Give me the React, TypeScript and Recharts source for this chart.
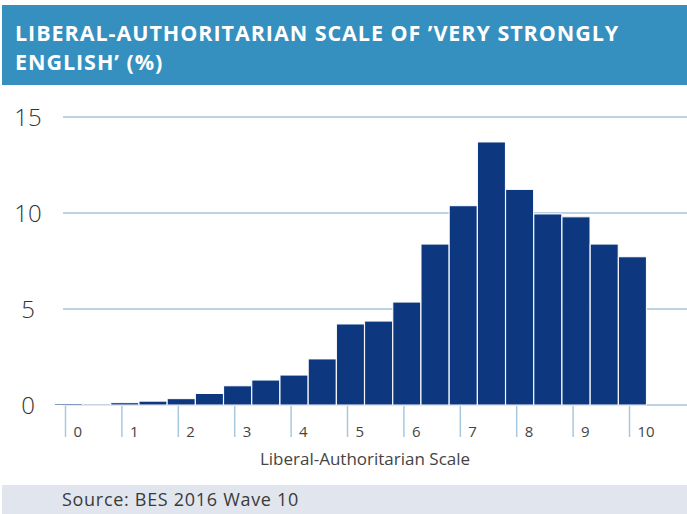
import { BarChart, Bar, XAxis, YAxis, CartesianGrid, Label } from "recharts";

// scale bins (half-point steps) and share of 'very strongly English' (%)
const bins = [0, 0.5, 1, 1.5, 2, 2.5, 3, 3.5, 4, 4.5, 5, 5.5, 6, 6.5, 7, 7.5, 8, 8.5, 9, 9.5, 10];
const shares = [
      0.08, 0.05, 0.12, 0.2, 0.33, 0.6, 1.0, 1.3, 1.56, 2.4, 4.22, 4.37, 5.36, 8.38, 10.38, 13.7,
      11.23, 9.95, 9.8, 8.38, 7.72,
];
const xTicks = [0, 1, 2, 3, 4, 5, 6, 7, 8, 9, 10];
const yTicks = [0, 5, 10, 15];

const data = bins.map((bin, i) => ({ bin, share: shares[i] }));

const FONT = "'Open Sans', sans-serif";

const XTick = (props: any) => {
      const { x, y, payload } = props;
      return (
            <g>
                  <line x1={x - 3} x2={x - 3} y1={y + 1} y2={y + 32} stroke="#a8c8e0" strokeWidth={1.5} />
                  <text x={x + 5} y={y + 32} fontSize={15} fill="#444" fontFamily={FONT}>
                        {payload.value}
                  </text>
            </g>
      );
};

const YTick = (props: any) => {
      const { y, payload } = props;
      return (
            <text x={28} y={y + 9} textAnchor="middle" fontSize={24} fill="#333" fontFamily={FONT} fontWeight={300}>
                  {payload.value}
            </text>
      );
};

const titleLine = { height: 29, lineHeight: "29px", whiteSpace: "nowrap" as const };

export default function App() {
      return (
            <div style={{ position: "relative", width: 687, height: 514, background: "#fff", fontFamily: FONT }}>
                  <style>{"body{margin:0}"}</style>

                  {/* title band */}
                  <div
                        style={{
                              position: "absolute",
                              left: 2,
                              top: 5,
                              width: 685,
                              height: 80,
                              background: "#3590bf",
                              color: "#fff",
                              fontWeight: 700,
                              fontSize: 21.5,
                              letterSpacing: 0.95,
                              padding: "13px 0 0 13px",
                              boxSizing: "border-box",
                        }}
                  >
                        <div style={titleLine}>LIBERAL-AUTHORITARIAN SCALE OF ’VERY STRONGLY</div>
                        <div style={titleLine}>ENGLISH’ (%)</div>
                  </div>

                  <div style={{ position: "absolute", left: 0, top: 0 }}>
                        <BarChart width={687} height={514} data={data} margin={{ top: 117, right: 0, bottom: 49, left: 13 }}>
                              <CartesianGrid vertical={false} stroke="#bcd3e4" strokeWidth={2} />
                              <XAxis
                                    type="number"
                                    dataKey="bin"
                                    domain={[-0.0975, 10.966]}
                                    ticks={xTicks}
                                    tick={<XTick />}
                                    axisLine={false}
                                    tickLine={false}
                                    tickSize={0}
                                    tickMargin={0}
                                    height={60}
                                    interval={0}
                              >
                                    <Label
                                          value="Liberal-Authoritarian Scale"
                                          position="insideBottom"
                                          offset={0}
                                          dx={-10}
                                          fontSize={17}
                                          fill="#444"
                                          fontFamily={FONT}
                                    />
                              </XAxis>
                              <YAxis
                                    domain={[0, 15]}
                                    ticks={yTicks}
                                    tick={<YTick />}
                                    axisLine={false}
                                    tickLine={false}
                                    width={50}
                                    interval={0}
                              />
                              <Bar
                                    dataKey="share"
                                    fill="#0d3880"
                                    stroke="#ffffff"
                                    strokeWidth={1}
                                    barSize={28}
                                    isAnimationActive={false}
                              />
                        </BarChart>
                  </div>

                  {/* source footer */}
                  <div
                        style={{
                              position: "absolute",
                              left: 2,
                              top: 485,
                              width: 685,
                              height: 29,
                              background: "#e1e6ee",
                              color: "#3a3a3a",
                              fontSize: 18,
                              letterSpacing: 0.7,
                              lineHeight: "29px",
                              paddingLeft: 60,
                              boxSizing: "border-box",
                        }}
                  >
                        Source: BES 2016 Wave 10
                  </div>
            </div>
      );
}
